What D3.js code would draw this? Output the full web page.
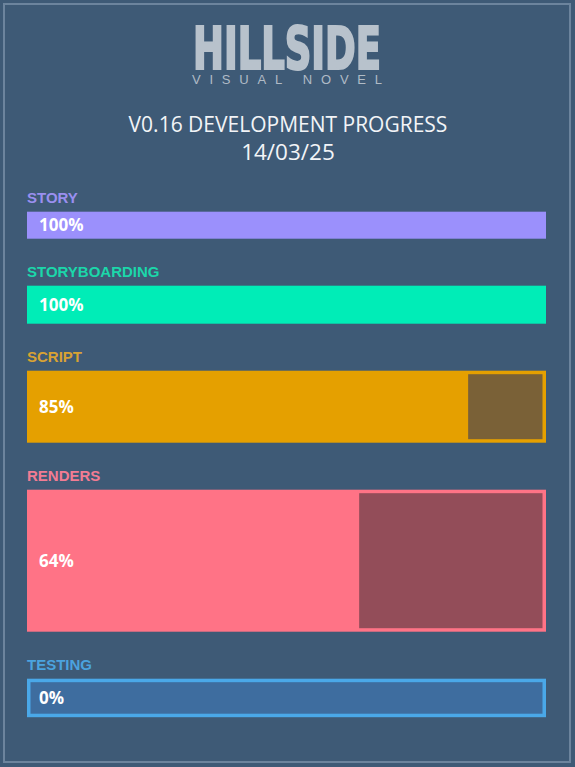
<!DOCTYPE html>
<html><head><meta charset="utf-8">
<script src="https://cdn.jsdelivr.net/npm/d3@7/dist/d3.min.js"></script>
<style>html,body{margin:0;padding:0;background:#3e5a76;}svg{display:block;}</style>
</head><body>
<script>
// ---- data ----
const categories = ["STORY", "STORYBOARDING", "SCRIPT", "RENDERS", "TESTING"];
const progress = [100, 100, 85, 64, 0];
const titleLines = ["V0.16 DEVELOPMENT PROGRESS", "14/03/25"];
const logoTitle = "HILLSIDE";
const logoSub = "VISUAL NOVEL";

// ---- style / layout ----
const barColors = ["#9b90fc", "#00edb7", "#e5a000", "#ff7386", "#4aa8e8"];
const labelColors = ["#9a8ff0", "#1bd7aa", "#d8a233", "#f27c93", "#4ba3df"];
const remainColors = ["#6a6390", "#2a8f7a", "#7a6137", "#934d59", "#3e6d9f"];
const rowHeights = [27, 38, 72, 142, 38.5];
const W = 575, H = 767;
const gap = 47, top0 = 211.7;

const svg = d3.select("body").append("svg").attr("width", W).attr("height", H);
svg.append("rect").attr("width", W).attr("height", H).attr("fill", "#3e5a76");
svg.append("rect").attr("x", 4).attr("y", 4).attr("width", 566).attr("height", 758)
  .attr("fill", "none").attr("stroke", "#6c849d").attr("stroke-width", 2);

// logo
svg.append("text").attr("x", 193).attr("y", 68.5).attr("textLength", 188).attr("lengthAdjust", "spacingAndGlyphs")
  .attr("font-family", "DejaVu Sans Condensed, DejaVu Sans").attr("font-weight", "bold").attr("font-size", 58)
  .attr("fill", "#b8c2cc").attr("stroke", "#b8c2cc").attr("stroke-width", 2.2).attr("stroke-linejoin", "miter")
  .text(logoTitle);
svg.append("text").attr("x", 192).attr("y", 84.3).attr("textLength", 190).attr("lengthAdjust", "spacing")
  .attr("font-family", "Liberation Sans, Arial").attr("font-size", 13)
  .attr("fill", "#b0bbc6").text(logoSub);

// title
const titleSizes = [21, 22.5], titleBase = [132, 160];
svg.selectAll("text.title").data(titleLines).enter().append("text").attr("class", "title")
  .attr("x", 288).attr("y", (d, i) => titleBase[i]).attr("text-anchor", "middle")
  .attr("font-family", "Open Sans").attr("font-weight", 500).attr("font-size", (d, i) => titleSizes[i])
  .attr("fill", "#f2f4f7").text(d => d);

// scales
const x = d3.scaleLinear().domain([0, 100]).range([27, 546]);
const tops = [];
rowHeights.reduce((acc, h, i) => { tops[i] = acc; return acc + h + gap; }, top0);
const rows = categories.map((c, i) => ({ c, v: progress[i], i, y: tops[i], h: rowHeights[i] }));

const g = svg.selectAll("g.row").data(rows).enter().append("g").attr("class", "row");
g.append("text").attr("x", 27).attr("y", d => d.y - 8.3)
  .attr("font-family", "Liberation Sans, Arial").attr("font-weight", "bold").attr("font-size", 15)
  .attr("fill", d => labelColors[d.i]).text(d => d.c);
g.append("rect").attr("x", x(0)).attr("y", d => d.y).attr("width", x(100) - x(0)).attr("height", d => d.h)
  .attr("fill", d => barColors[d.i]);
const inset = 3.5;
g.filter(d => d.v < 100).append("rect")
  .attr("x", d => Math.max(x(d.v), x(0) + inset)).attr("y", d => d.y + inset)
  .attr("width", d => x(100) - inset - Math.max(x(d.v), x(0) + inset)).attr("height", d => d.h - 2 * inset)
  .attr("fill", d => remainColors[d.i]);
g.append("text").attr("x", 39).attr("y", d => d.y + d.h / 2).attr("dy", "0.36em")
  .attr("font-family", "Open Sans").attr("font-weight", "bold").attr("font-size", 17)
  .attr("fill", "#ffffff").text(d => d.v + "%");
</script>
</body></html>
